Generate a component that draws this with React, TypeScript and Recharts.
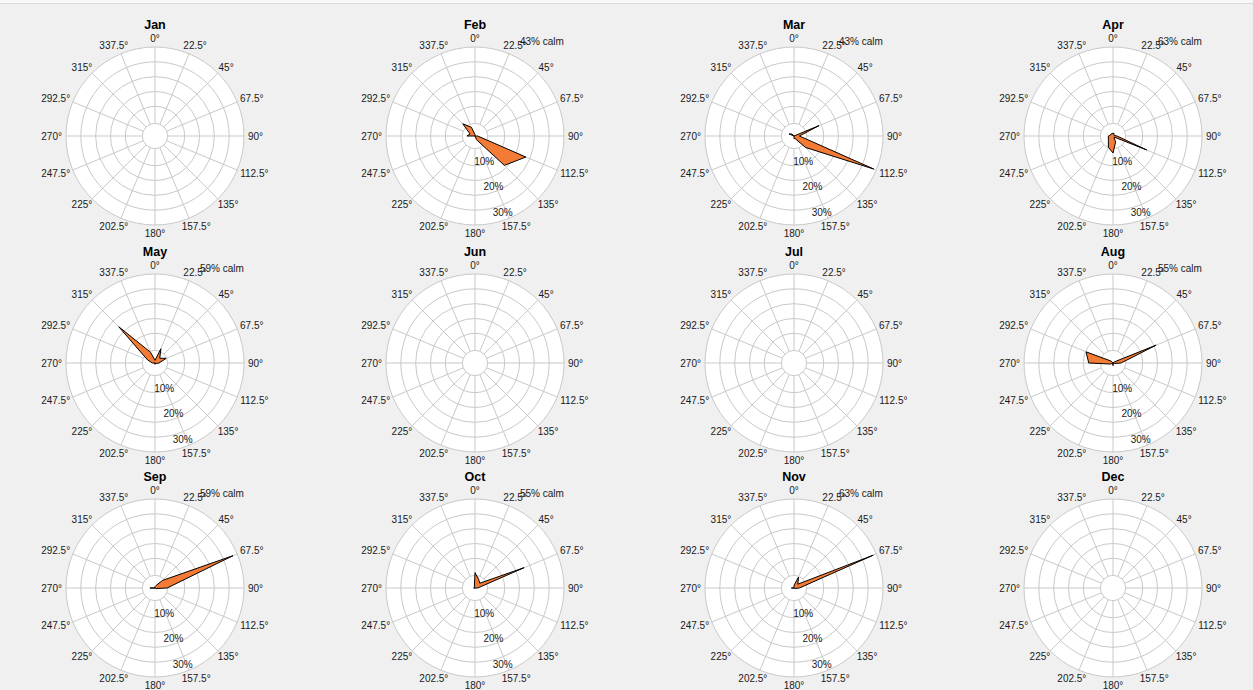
import React from 'react';
import { RadarChart, Radar, PolarGrid, PolarAngleAxis, PolarRadiusAxis } from 'recharts';

const MONTHS = ['Jan', 'Feb', 'Mar', 'Apr', 'May', 'Jun', 'Jul', 'Aug', 'Sep', 'Oct', 'Nov', 'Dec'];
const DIRECTIONS = [0, 22.5, 45, 67.5, 90, 112.5, 135, 157.5, 180, 202.5, 225, 247.5, 270, 292.5, 315, 337.5];

// % of observations per wind direction (0°, 22.5°, ... 337.5°); empty = no record
const JAN: number[] = [];
const FEB = [0.5, 0, 0, 0, 1, 20.4, 15.4, 1.5, 0, 0, 0, 0, 3, 2, 6.4, 3.5];
const MAR = [0, 0, 0, 10, 2, 32, 6, 1, 1, 0, 0, 0, 0, 2, 1, 0];
const APR = [1, 1, 0.5, 0.5, 1.5, 13.5, 0.5, 2.5, 6.3, 4.5, 2.4, 1.9, 1.7, 1, 1, 1];
const MAY = [1, 5.7, 2.5, 4.5, 1.5, 0.5, 0, 0, 0.5, 0, 0, 0, 1, 3, 19, 4.3];
const JUN: number[] = [];
const JUL: number[] = [];
const AUG = [0, 0, 0.5, 17.3, 3, 0.5, 0, 0, 1, 0, 0, 1, 9, 10.8, 1, 0];
const SEP = [0.5, 1, 4, 31.3, 4.5, 0.5, 0, 0, 0, 0, 0, 0, 1.9, 0, 0, 0];
const OCT = [5.7, 3.5, 2.5, 19.7, 1, 0, 0, 0, 0, 0, 0, 0, 0.5, 0, 0, 0.6];
const NOV = [1, 4.4, 2, 31.8, 2, 0.5, 0, 0, 0, 0, 0, 0, 1, 0, 0, 0];
const DEC: number[] = [];
const FREQUENCIES = [JAN, FEB, MAR, APR, MAY, JUN, JUL, AUG, SEP, OCT, NOV, DEC];

const CALM: (number | null)[] = [null, 43, 43, 63, 59, null, null, 55, 59, 55, 63, null];

const RADIUS_MAX = 33;
const RADIUS_TICKS = [10, 20, 30];
const RING_VALUES = [11, 16.5, 22, 27.5, 33];
const CALM_RING = 4.7;

// layout
const COL_X = [155, 475, 794, 1113];
const ROW_Y = [136, 362.5, 588];
const BOX_W = 300;
const BOX_H = 240;
const CX = 150;
const CY = 125;
const OUTER_R = 89;
const PX_PER_PCT = OUTER_R / RADIUS_MAX;

const FONT = '"Liberation Sans", Arial, sans-serif';
const TEXT = '#1a1a1a';
const GRID = '#c9c9c9';
const FILL = '#F47B35';
const LABEL_SIZE = 10;

const charWidth = (c: string) => {
  if (c === '.') return 0.278;
  if (c === '°') return 0.4;
  return 0.556;
};
const textWidth = (s: string, size: number) =>
  s.split('').reduce((w, c) => w + charWidth(c), 0) * size;

function AngleTick(props: any) {
  const { payload } = props;
  const label = String(payload.value);
  const rad = (-payload.coordinate * Math.PI) / 180;
  const dx = Math.cos(rad);
  const dy = Math.sin(rad);
  const r = OUTER_R + 4;
  const w = textWidth(label, LABEL_SIZE);
  const x = CX + dx * r + (dx * w) / 2;
  const y = CY + dy * r + (dy * 9) / 2;
  return (
    <text x={x} y={y} textAnchor="middle" dominantBaseline="central" fontSize={LABEL_SIZE} fill={TEXT} fontFamily={FONT}>
      {label}
    </text>
  );
}

function RadiusTick(props: any) {
  const { x, y, payload } = props;
  return (
    <text x={x} y={y} textAnchor="middle" dominantBaseline="central" fontSize={LABEL_SIZE} fill={TEXT} fontFamily={FONT}>
      {`${payload.value}%`}
    </text>
  );
}

const CalmHole = () => (
  <circle cx={CX} cy={CY} r={CALM_RING * PX_PER_PCT} fill="#fff" stroke={GRID} />
);

function MonthRose({ index }: { index: number }) {
  const values = FREQUENCIES[index];
  const data = DIRECTIONS.map((d, i) => ({ dir: `${d}°`, value: values[i] }));
  const calm = CALM[index];
  const left = COL_X[index % 4] - CX;
  const top = ROW_Y[Math.floor(index / 4)] - CY;
  return (
    <div style={{ position: 'absolute', left, top, width: BOX_W, height: BOX_H }}>
      <div
        style={{
          position: 'absolute',
          left: CX - OUTER_R,
          top: CY - OUTER_R,
          width: OUTER_R * 2,
          height: OUTER_R * 2,
          borderRadius: '50%',
          background: '#fff',
        }}
      />
      <div
        style={{
          position: 'absolute',
          left: 0,
          width: BOX_W,
          top: CY - 111 - 8,
          height: 16,
          lineHeight: '16px',
          textAlign: 'center',
          fontFamily: FONT,
          fontWeight: 'bold',
          fontSize: 12.5,
          color: '#000',
        }}
      >
        {MONTHS[index]}
      </div>
      <div style={{ position: 'absolute', left: 0, top: 0 }}>
        <RadarChart
          width={BOX_W}
          height={BOX_H}
          data={data}
          cx={CX}
          cy={CY}
          outerRadius={OUTER_R}
          margin={{ top: 0, right: 0, bottom: 0, left: 0 }}
        >
          <PolarGrid
            gridType="circle"
            stroke={GRID}
            polarRadius={RING_VALUES.map((v) => v * PX_PER_PCT)}
          />
          <CalmHole />
          <PolarAngleAxis dataKey="dir" axisLine={false} tickLine={false} tick={(p: any) => <AngleTick {...p} />} />
          <PolarRadiusAxis
            angle={-70}
            domain={[0, RADIUS_MAX]}
            ticks={RADIUS_TICKS}
            axisLine={false}
            tickLine={false}
            tick={(p: any) => <RadiusTick {...p} />}
          />
          {values.length > 0 && (
            <Radar
              dataKey="value"
              stroke="#000"
              strokeWidth={1}
              fill={FILL}
              fillOpacity={1}
              dot={false}
              isAnimationActive={false}
            />
          )}
        </RadarChart>
      </div>
      {calm !== null && (
        <div
          style={{
            position: 'absolute',
            left: CX + 45,
            top: CY - 94 - 6,
            height: 12,
            lineHeight: '12px',
            fontFamily: FONT,
            fontSize: LABEL_SIZE,
            color: TEXT,
            whiteSpace: 'nowrap',
          }}
        >
          {`${calm}% calm`}
        </div>
      )}
    </div>
  );
}

export default function App() {
  return (
    <div
      style={{
        position: 'absolute',
        left: 0,
        top: 0,
        width: 1253,
        height: 690,
        background: '#f0f0f0',
        overflow: 'hidden',
      }}
    >
      <div style={{ position: 'absolute', left: 0, top: 0, width: 1253, height: 3, background: '#f8f8f8', borderBottom: '1px solid #dadada' }} />
      {MONTHS.map((m, i) => (
        <MonthRose key={m} index={i} />
      ))}
    </div>
  );
}
